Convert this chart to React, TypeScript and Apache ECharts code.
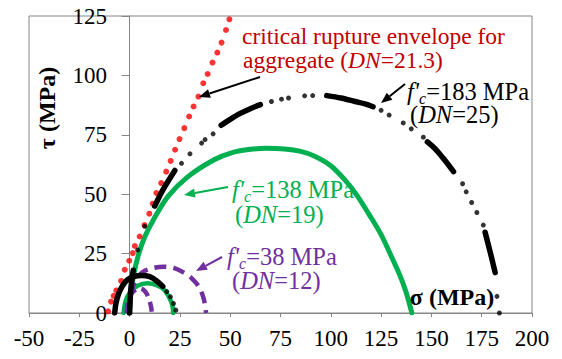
import React, { useEffect, useRef } from "react";
import * as echarts from "echarts";

// Axis ranges
const X_MIN = -50;
const X_MAX = 200;
const X_STEP = 25;
const Y_MIN = 0;
const Y_MAX = 125;
const Y_STEP = 25;

// Critical rupture envelope for aggregate (red dots)
const redEnvelope: [number, number][] = [
  [-10.7, 0.7], [-9.2, 4.8], [-7.9, 7.2], [-6.6, 9.5], [-4.2, 13.5], [-2.4, 18.2], [-0.2, 22],
  [1.6, 25.2], [2.6, 28.2], [5, 32.2], [7.4, 37], [9.8, 41.8], [11.5, 46], [13.3, 50.5],
  [15.7, 54.7], [18.2, 59.5], [20.4, 64], [22.6, 68.7], [24.8, 73.2], [27.2, 77.8],
  [29.6, 82.7], [31.8, 86.9], [34.2, 91.1], [36.6, 96.7], [38.8, 100.6], [41.2, 105.4],
  [43.6, 109.6], [45.7, 113.8], [47.9, 119.1], [49.6, 123.6],
];

// f'c = 183 MPa: solid (dense) stretches and sparse dots
const black183Segments: [number, number][][] = [
  [[0, 0], [0.6, 10], [1.8, 18]],
  [[12.5, 45], [16, 51], [19.5, 56], [22.5, 60]],
  [[45.5, 79], [50, 81.5], [55, 84], [60, 86], [65, 87.7]],
  [[98, 91.5], [105, 90.5], [112, 89], [117, 88], [121, 86.8]],
  [[148, 72], [152, 69], [156, 65], [161, 59.5]],
  [[176.7, 34], [178.5, 28], [180, 23], [181.7, 17]],
];
const black183Dots: [number, number][] = [
  [4, 26.5], [7.5, 36.5], [25.8, 63], [30, 67], [35.8, 71.5], [37.5, 73], [41.5, 75.4],
  [70.5, 89], [75.5, 90], [79, 90.5], [87, 91.4], [91, 91.5],
  [125, 85.3], [129, 83.3], [136, 80], [140, 77.5], [146, 74],
  [165.5, 54.4], [167.3, 51], [170, 46.5], [172.6, 42.3], [175.8, 37],
  [182.6, 7], [183.8, 0],
];
// small black circle
const blackSmallSolid: [number, number][] = [
  [-7.4, 0], [-6.8, 4], [-5.5, 8], [-3.5, 11.5], [-1, 14], [2, 15.3], [6, 15.8],
  [10, 15.3], [13.5, 13.5], [16.5, 11.2],
];
const blackSmallDots: [number, number][] = [[18.5, 9], [20.3, 6.8], [21.8, 4], [23, 1.2]];

// f'c = 138 MPa (green)
const green138: [number, number][] = [
  [0, 0], [0.5, 8], [2, 16], [4.4, 24.5], [7.5, 32], [12, 39.5], [19, 49], [29, 57.4],
  [42, 64.5], [51, 67.5], [60, 68.9], [68, 69.3], [77, 69], [85, 68], [92, 66], [100, 62],
  [107, 56], [113, 49.5], [119, 41.5], [125, 33], [130, 24], [134.5, 15.5], [137.5, 8.5],
  [140.3, 0],
];
const greenSmall: [number, number][] = [
  [-3, 0], [-2, 5], [0, 8.5], [4, 11.5], [9, 12.5], [14, 11.5], [17.5, 9.5], [20, 6],
  [21.3, 3], [21.7, 0],
];

// f'c = 38 MPa (purple, dashed)
const purple38: [number, number][] = [
  [0, 0], [0.5, 6], [1.5, 10.5], [3.5, 14.5], [7, 17.5], [12, 19], [17, 19.5], [22, 19],
  [27, 17], [31, 14.5], [34.5, 11], [36.5, 7], [37.6, 3], [38, 0],
];
const purpleSmall: [number, number][] = [
  [-1.5, 0], [-1, 4], [0.5, 7.5], [3, 9.8], [5.5, 10.3], [8, 8.8], [9.8, 5.5], [10.8, 2], [11, 0],
];

const RED = "#FF0000";
const RED_TEXT = "#C00000";
const GREEN = "#00B050";
const PURPLE = "#7030A0";
const FONT = "Liberation Serif";
const FS = 23;

function arrow(x1: number, y1: number, x2: number, y2: number, color: string) {
  const ang = Math.atan2(y2 - y1, x2 - x1);
  const len = 11;
  const hw = 4.5;
  const bx = x2 - len * Math.cos(ang);
  const by = y2 - len * Math.sin(ang);
  const px = -Math.sin(ang) * hw;
  const py = Math.cos(ang) * hw;
  return [
    {
      type: "line",
      shape: { x1, y1, x2: bx, y2: by },
      style: { stroke: color, lineWidth: 2 },
      z: 100,
    },
    {
      type: "polygon",
      shape: { points: [[x2, y2], [bx + px, by + py], [bx - px, by - py]] },
      style: { fill: color },
      z: 100,
    },
  ];
}

function label(x: number, y: number, text: string, color: string, size: number) {
  return {
    type: "text",
    x,
    y,
    z: 100,
    style: {
      text,
      fill: color,
      fontFamily: FONT,
      fontSize: size,
      align: "left",
      verticalAlign: "middle",
      rich: {
        n: { fontFamily: FONT, fontSize: size, lineHeight: 30 },
        i: { fontFamily: FONT, fontSize: size, fontStyle: "italic", lineHeight: 30 },
        sub: { fontFamily: FONT, fontSize: 16, fontStyle: "italic", lineHeight: 16, verticalAlign: "bottom" },
      },
    },
  };
}

export default function App() {
  const ref = useRef<HTMLDivElement>(null);

  useEffect(() => {
    if (!ref.current) return;
    const chart = echarts.init(ref.current, undefined, { renderer: "svg" });

    const lineSeries = (data: [number, number][], color: string, width: number, extra: any = {}) => ({
      type: "line",
      data,
      showSymbol: false,
      symbol: "none",
      smooth: 0.3,
      lineStyle: { color, width, cap: "round", join: "round", ...(extra.lineStyle || {}) },
      z: extra.z ?? 2,
      silent: true,
    });

    const series: any[] = [
      lineSeries(greenSmall, GREEN, 4.5, { z: 2 }),
      lineSeries(green138, GREEN, 5, { z: 2 }),
      lineSeries(purple38, PURPLE, 4.5, { z: 3, lineStyle: { type: [12, 7], cap: "butt" } }),
      lineSeries(purpleSmall, PURPLE, 4.5, { z: 3, lineStyle: { type: [10, 6], cap: "butt" } }),
      {
        type: "scatter",
        data: redEnvelope,
        symbol: "circle",
        symbolSize: 6,
        itemStyle: { color: RED },
        z: 4,
        silent: true,
      },
      ...black183Segments.map((seg) => lineSeries(seg, "#000", 5.5, { z: 5 })),
      lineSeries(blackSmallSolid, "#000", 5.5, { z: 5 }),
      {
        type: "scatter",
        data: [...black183Dots, ...blackSmallDots],
        symbol: "circle",
        symbolSize: 5,
        itemStyle: { color: "#000" },
        z: 5,
        silent: true,
      },
    ];

    const graphic: any[] = [
      {
        type: "text",
        x: 47,
        y: 108,
        rotation: Math.PI / 2,
        style: {
          text: "τ (MPa)",
          fill: "#000",
          fontFamily: FONT,
          fontSize: 24,
          fontWeight: "bold",
          align: "center",
          verticalAlign: "middle",
        },
        z: 100,
      },
      {
        type: "text",
        x: 452,
        y: 297,
        style: {
          text: "σ (MPa)",
          fill: "#000",
          fontFamily: FONT,
          fontSize: 24,
          fontWeight: "bold",
          align: "center",
          verticalAlign: "middle",
        },
        z: 100,
      },
      label(242, 36, "{n|critical rupture envelope for}", RED_TEXT, 23.5),
      label(243, 60, "{n|aggregate (}{i|DN}{n|=21.3)}", RED_TEXT, 23.5),
      label(407, 91, "{i|f'}{sub|c}{n|=183 MPa}", "#000", 24.5),
      label(410, 114, "{n|(}{i|DN}{n|=25)}", "#000", 24.5),
      label(232, 189, "{i|f'}{sub|c}{n|=138 MPa}", GREEN, 24.5),
      label(235, 214, "{n|(}{i|DN}{n|=19)}", GREEN, 24.5),
      label(227, 256, "{i|f'}{sub|c}{n|=38 MPa}", PURPLE, 24.5),
      label(232, 280, "{n|(}{i|DN}{n|=12)}", PURPLE, 24.5),
      ...arrow(260, 77, 199, 97, "#000"),
      ...arrow(405, 84, 381, 103, "#000"),
      ...arrow(228, 187, 184, 195, GREEN),
      ...arrow(222, 257, 196, 271, PURPLE),
    ];

    chart.setOption({
      animation: false,
      textStyle: { fontFamily: FONT },
      grid: {
        left: 29,
        right: 30,
        top: 16,
        bottom: 46,
        show: true,
        borderColor: "#868686",
        borderWidth: 1,
        containLabel: false,
        outerBoundsMode: "none",
      },
      xAxis: {
        type: "value",
        min: X_MIN,
        max: X_MAX,
        interval: X_STEP,
        axisLine: { show: true, onZero: false, lineStyle: { color: "#868686", width: 1 } },
        axisTick: { show: true, length: 4, lineStyle: { color: "#868686" } },
        axisLabel: {
          fontSize: FS,
          fontFamily: FONT,
          color: "#000",
          margin: 14,
          align: "center",
          alignMinLabel: "center",
          alignMaxLabel: "center",
        },
        splitLine: { show: false },
      },
      yAxis: {
        type: "value",
        min: Y_MIN,
        max: Y_MAX,
        interval: Y_STEP,
        axisLine: { show: true, onZero: true, lineStyle: { color: "#868686", width: 1 } },
        axisTick: { show: true, length: 8, lineStyle: { color: "#868686" } },
        axisLabel: { fontSize: FS, fontFamily: FONT, color: "#000", margin: -78, align: "right" },
        splitLine: { show: false },
      },
      series,
      graphic,
    });

    return () => chart.dispose();
  }, []);

  return (
    <div
      ref={ref}
      style={{ position: "fixed", left: 0, top: 0, width: 562, height: 359, background: "#fff" }}
    />
  );
}
